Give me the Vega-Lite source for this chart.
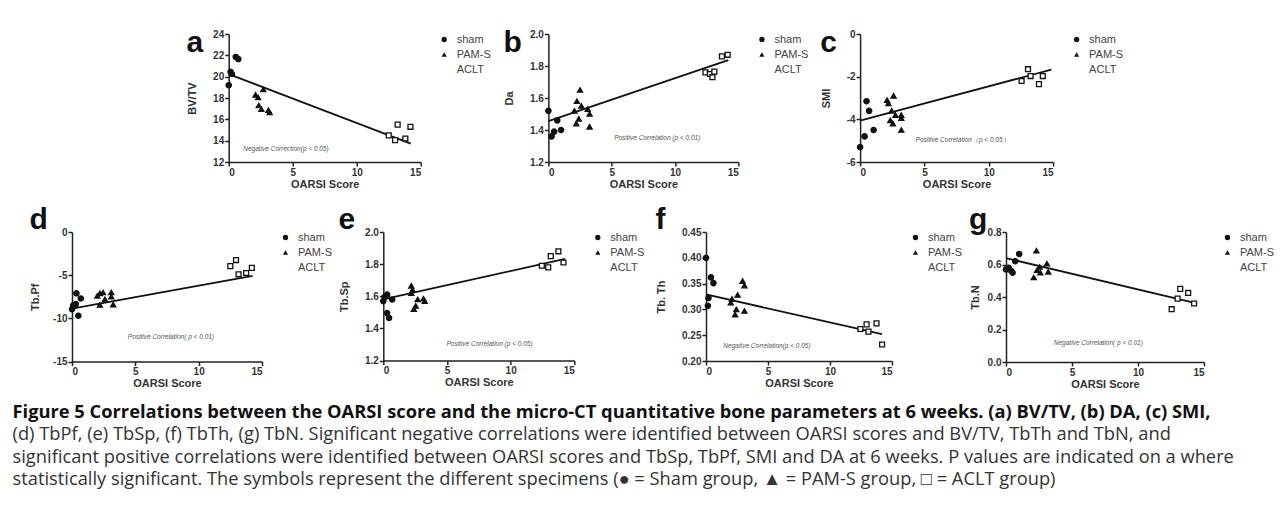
{
  "$schema": "https://vega.github.io/schema/vega-lite/v6.json",
  "background": "white",
  "padding": {"left": 12, "top": 27, "right": 5, "bottom": 5},
  "datasets": {
    "pts": [
      {"p": "a", "g": "sham", "x": 0, "v": 19.2}, {"p": "a", "g": "sham", "x": 0.15, "v": 20.45}, {"p": "a", "g": "sham", "x": 0.25, "v": 20.25}, {"p": "a", "g": "sham", "x": 0.55, "v": 21.85}, {"p": "a", "g": "sham", "x": 0.75, "v": 21.65},
      {"p": "a", "g": "PAM-S", "x": 2.1, "v": 18.3}, {"p": "a", "g": "PAM-S", "x": 2.3, "v": 18.05}, {"p": "a", "g": "PAM-S", "x": 2.7, "v": 18.8}, {"p": "a", "g": "PAM-S", "x": 2.35, "v": 17.3}, {"p": "a", "g": "PAM-S", "x": 2.55, "v": 16.95}, {"p": "a", "g": "PAM-S", "x": 3.1, "v": 16.85}, {"p": "a", "g": "PAM-S", "x": 3.2, "v": 16.65},
      {"p": "a", "g": "ACLT", "x": 12.5, "v": 14.5}, {"p": "a", "g": "ACLT", "x": 13.0, "v": 14.05}, {"p": "a", "g": "ACLT", "x": 13.2, "v": 15.5}, {"p": "a", "g": "ACLT", "x": 13.8, "v": 14.2}, {"p": "a", "g": "ACLT", "x": 14.2, "v": 15.3},

      {"p": "b", "g": "sham", "x": 0, "v": 1.52}, {"p": "b", "g": "sham", "x": 0.25, "v": 1.36}, {"p": "b", "g": "sham", "x": 0.45, "v": 1.39}, {"p": "b", "g": "sham", "x": 0.7, "v": 1.46}, {"p": "b", "g": "sham", "x": 1.0, "v": 1.40},
      {"p": "b", "g": "PAM-S", "x": 2.5, "v": 1.65}, {"p": "b", "g": "PAM-S", "x": 2.25, "v": 1.58}, {"p": "b", "g": "PAM-S", "x": 2.05, "v": 1.52}, {"p": "b", "g": "PAM-S", "x": 2.6, "v": 1.55}, {"p": "b", "g": "PAM-S", "x": 2.4, "v": 1.47}, {"p": "b", "g": "PAM-S", "x": 2.2, "v": 1.44}, {"p": "b", "g": "PAM-S", "x": 3.1, "v": 1.53}, {"p": "b", "g": "PAM-S", "x": 3.25, "v": 1.50}, {"p": "b", "g": "PAM-S", "x": 3.25, "v": 1.42},
      {"p": "b", "g": "ACLT", "x": 12.4, "v": 1.76}, {"p": "b", "g": "ACLT", "x": 12.75, "v": 1.75}, {"p": "b", "g": "ACLT", "x": 13.1, "v": 1.765}, {"p": "b", "g": "ACLT", "x": 12.95, "v": 1.73}, {"p": "b", "g": "ACLT", "x": 13.7, "v": 1.86}, {"p": "b", "g": "ACLT", "x": 14.15, "v": 1.87},

      {"p": "c", "g": "sham", "x": 0, "v": -5.3}, {"p": "c", "g": "sham", "x": 0.35, "v": -4.8}, {"p": "c", "g": "sham", "x": 1.05, "v": -4.5}, {"p": "c", "g": "sham", "x": 0.7, "v": -3.6}, {"p": "c", "g": "sham", "x": 0.5, "v": -3.15},
      {"p": "c", "g": "PAM-S", "x": 2.1, "v": -3.1}, {"p": "c", "g": "PAM-S", "x": 2.2, "v": -3.25}, {"p": "c", "g": "PAM-S", "x": 2.6, "v": -2.9}, {"p": "c", "g": "PAM-S", "x": 2.45, "v": -3.6}, {"p": "c", "g": "PAM-S", "x": 2.75, "v": -3.8}, {"p": "c", "g": "PAM-S", "x": 2.35, "v": -4.05}, {"p": "c", "g": "PAM-S", "x": 2.55, "v": -4.2}, {"p": "c", "g": "PAM-S", "x": 3.2, "v": -3.8}, {"p": "c", "g": "PAM-S", "x": 3.2, "v": -3.95}, {"p": "c", "g": "PAM-S", "x": 3.2, "v": -4.5},
      {"p": "c", "g": "ACLT", "x": 12.55, "v": -2.2}, {"p": "c", "g": "ACLT", "x": 13.05, "v": -1.65}, {"p": "c", "g": "ACLT", "x": 13.25, "v": -1.97}, {"p": "c", "g": "ACLT", "x": 13.9, "v": -2.35}, {"p": "c", "g": "ACLT", "x": 14.2, "v": -1.97},

      {"p": "d", "g": "sham", "x": 0, "v": -8.95}, {"p": "d", "g": "sham", "x": 0.1, "v": -8.5}, {"p": "d", "g": "sham", "x": 0.3, "v": -8.35}, {"p": "d", "g": "sham", "x": 0.35, "v": -7.1}, {"p": "d", "g": "sham", "x": 0.7, "v": -7.7}, {"p": "d", "g": "sham", "x": 0.5, "v": -9.7},
      {"p": "d", "g": "PAM-S", "x": 2.0, "v": -7.4}, {"p": "d", "g": "PAM-S", "x": 2.2, "v": -7.1}, {"p": "d", "g": "PAM-S", "x": 2.45, "v": -7.0}, {"p": "d", "g": "PAM-S", "x": 2.2, "v": -8.45}, {"p": "d", "g": "PAM-S", "x": 2.6, "v": -7.8}, {"p": "d", "g": "PAM-S", "x": 3.1, "v": -7.0}, {"p": "d", "g": "PAM-S", "x": 3.1, "v": -7.5}, {"p": "d", "g": "PAM-S", "x": 3.25, "v": -8.4},
      {"p": "d", "g": "ACLT", "x": 12.5, "v": -3.95}, {"p": "d", "g": "ACLT", "x": 12.95, "v": -3.25}, {"p": "d", "g": "ACLT", "x": 13.15, "v": -4.9}, {"p": "d", "g": "ACLT", "x": 13.75, "v": -4.75}, {"p": "d", "g": "ACLT", "x": 14.2, "v": -4.15},

      {"p": "e", "g": "sham", "x": 0, "v": 1.57}, {"p": "e", "g": "sham", "x": 0.1, "v": 1.595}, {"p": "e", "g": "sham", "x": 0.3, "v": 1.61}, {"p": "e", "g": "sham", "x": 0.7, "v": 1.58}, {"p": "e", "g": "sham", "x": 0.3, "v": 1.495}, {"p": "e", "g": "sham", "x": 0.45, "v": 1.465},
      {"p": "e", "g": "PAM-S", "x": 2.2, "v": 1.665}, {"p": "e", "g": "PAM-S", "x": 2.3, "v": 1.64}, {"p": "e", "g": "PAM-S", "x": 2.2, "v": 1.62}, {"p": "e", "g": "PAM-S", "x": 2.7, "v": 1.58}, {"p": "e", "g": "PAM-S", "x": 3.15, "v": 1.585}, {"p": "e", "g": "PAM-S", "x": 3.25, "v": 1.57}, {"p": "e", "g": "PAM-S", "x": 2.55, "v": 1.54}, {"p": "e", "g": "PAM-S", "x": 2.4, "v": 1.52},
      {"p": "e", "g": "ACLT", "x": 12.45, "v": 1.79}, {"p": "e", "g": "ACLT", "x": 12.95, "v": 1.78}, {"p": "e", "g": "ACLT", "x": 13.15, "v": 1.85}, {"p": "e", "g": "ACLT", "x": 13.75, "v": 1.88}, {"p": "e", "g": "ACLT", "x": 14.15, "v": 1.81},

      {"p": "f", "g": "sham", "x": 0, "v": 0.40}, {"p": "f", "g": "sham", "x": 0.15, "v": 0.307}, {"p": "f", "g": "sham", "x": 0.2, "v": 0.322}, {"p": "f", "g": "sham", "x": 0.4, "v": 0.362}, {"p": "f", "g": "sham", "x": 0.6, "v": 0.351},
      {"p": "f", "g": "PAM-S", "x": 2.1, "v": 0.32}, {"p": "f", "g": "PAM-S", "x": 2.0, "v": 0.313}, {"p": "f", "g": "PAM-S", "x": 2.55, "v": 0.328}, {"p": "f", "g": "PAM-S", "x": 2.95, "v": 0.355}, {"p": "f", "g": "PAM-S", "x": 3.1, "v": 0.346}, {"p": "f", "g": "PAM-S", "x": 3.1, "v": 0.297}, {"p": "f", "g": "PAM-S", "x": 2.45, "v": 0.30}, {"p": "f", "g": "PAM-S", "x": 2.35, "v": 0.29},
      {"p": "f", "g": "ACLT", "x": 12.45, "v": 0.262}, {"p": "f", "g": "ACLT", "x": 12.95, "v": 0.271}, {"p": "f", "g": "ACLT", "x": 13.1, "v": 0.257}, {"p": "f", "g": "ACLT", "x": 13.75, "v": 0.273}, {"p": "f", "g": "ACLT", "x": 14.2, "v": 0.232},

      {"p": "g", "g": "sham", "x": 0, "v": 0.57}, {"p": "g", "g": "sham", "x": 0.2, "v": 0.58}, {"p": "g", "g": "sham", "x": 0.4, "v": 0.56}, {"p": "g", "g": "sham", "x": 0.5, "v": 0.55}, {"p": "g", "g": "sham", "x": 0.7, "v": 0.62}, {"p": "g", "g": "sham", "x": 1.0, "v": 0.665},
      {"p": "g", "g": "PAM-S", "x": 2.3, "v": 0.685}, {"p": "g", "g": "PAM-S", "x": 2.1, "v": 0.52}, {"p": "g", "g": "PAM-S", "x": 2.35, "v": 0.565}, {"p": "g", "g": "PAM-S", "x": 2.6, "v": 0.55}, {"p": "g", "g": "PAM-S", "x": 2.55, "v": 0.585}, {"p": "g", "g": "PAM-S", "x": 3.1, "v": 0.605}, {"p": "g", "g": "PAM-S", "x": 3.2, "v": 0.555},
      {"p": "g", "g": "ACLT", "x": 12.55, "v": 0.325}, {"p": "g", "g": "ACLT", "x": 13.0, "v": 0.39}, {"p": "g", "g": "ACLT", "x": 13.2, "v": 0.45}, {"p": "g", "g": "ACLT", "x": 13.8, "v": 0.425}, {"p": "g", "g": "ACLT", "x": 14.25, "v": 0.36}
    ],
    "fits": [
      {"p": "a", "x": 0, "v": 20.24}, {"p": "a", "x": 14.22, "v": 13.72},
      {"p": "b", "x": 0, "v": 1.456}, {"p": "b", "x": 14.2, "v": 1.837},
      {"p": "c", "x": 0, "v": -4.06}, {"p": "c", "x": 14.87, "v": -1.67},
      {"p": "d", "x": 0, "v": -8.88}, {"p": "d", "x": 14.26, "v": -5.09},
      {"p": "e", "x": 0.24, "v": 1.585}, {"p": "e", "x": 14.27, "v": 1.832},
      {"p": "f", "x": 0, "v": 0.329}, {"p": "f", "x": 14.19, "v": 0.252},
      {"p": "g", "x": 0, "v": 0.639}, {"p": "g", "x": 14.37, "v": 0.362}
    ],
    "notes": [
      {"p": "a", "x": 1.14, "v": 13.19, "label": "Negative Correction(p < 0.05)"},
      {"p": "b", "x": 5.19, "v": 1.348, "label": "Positive Correlation (p < 0.01)"},
      {"p": "c", "x": 4.31, "v": -4.96, "label": "Positive Correlation（p < 0.05）"},
      {"p": "d", "x": 4.41, "v": -12.12, "label": "Positive Correlation( p < 0.01)"},
      {"p": "e", "x": 4.96, "v": 1.305, "label": "Positive Correlation (p < 0.05)"},
      {"p": "f", "x": 1.4, "v": 0.2296, "label": "Negative Correlation(p < 0.05)"},
      {"p": "g", "x": 3.62, "v": 0.114, "label": "Negative Correlation( p < 0.01)"}
    ]
  },
  "title": {
    "text": "Figure 5 Correlations between the OARSI score and the micro-CT quantitative bone parameters at 6 weeks. (a) BV/TV, (b) DA, (c) SMI,",
    "subtitle": [
      "(d) TbPf, (e) TbSp, (f) TbTh, (g) TbN. Significant negative correlations were identified between OARSI scores and BV/TV, TbTh and TbN, and",
      "significant positive correlations were identified between OARSI scores and TbSp, TbPf, SMI and DA at 6 weeks. P values are indicated on a where",
      "statistically significant. The symbols represent the different specimens (● = Sham group, ▲ = PAM-S group, □ = ACLT group)"
    ],
    "orient": "bottom", "anchor": "start", "frame": "bounds",
    "font": "Open Sans", "fontSize": 18.3, "fontWeight": "bold", "color": "#111", "baseline": "top",
    "subtitleFont": "Open Sans", "subtitleFontSize": 18.3, "subtitleFontWeight": "normal", "subtitleColor": "#333",
    "subtitleLineHeight": 22.4, "subtitlePadding": 4, "offset": 15, "dx": -17, "dy": 0
  },
  "vconcat": [
    {
      "hconcat": [
        {"width": 29, "height": 128, "mark": "point", "data": {"values": []}},
        {
          "width": 192, "height": 128,
          "title": {"text": "a", "dy": 32.5},
          "encoding": {
            "x": {"field": "x", "type": "quantitative", "scale": {"domain": [0, 15], "nice": false}, "axis": {"values": [0, 5, 10, 15], "title": "OARSI Score"}},
            "y": {"field": "v", "type": "quantitative", "scale": {"domain": [12, 24], "nice": false, "zero": false}, "axis": {"values": [12, 14, 16, 18, 20, 22, 24], "title": "BV/TV"}}
          },
          "layer": [
            {"data": {"name": "fits"}, "transform": [{"filter": "datum.p == 'a'"}], "mark": {"type": "line", "color": "#111", "strokeWidth": 1.8}},
            {"data": {"name": "pts"}, "transform": [{"filter": "datum.p == 'a'"}], "mark": {"type": "point", "stroke": "#111", "strokeWidth": 1.3, "opacity": 1},
             "encoding": {"shape": {"field": "g", "type": "nominal", "scale": {"domain": ["sham", "PAM-S", "ACLT"], "range": ["circle", "triangle-up", "square"]}, "legend": {"title": null}},
                          "fill": {"field": "g", "type": "nominal", "scale": {"domain": ["sham", "PAM-S", "ACLT"], "range": ["#111", "#111", "white"]}, "legend": {"title": null}},
                          "size": {"field": "g", "type": "nominal", "scale": {"domain": ["sham", "PAM-S", "ACLT"], "range": [28, 24, 46]}, "legend": {"title": null}}}},
            {"data": {"name": "notes"}, "transform": [{"filter": "datum.p == 'a'"}], "mark": {"type": "text", "align": "left", "baseline": "middle", "fontSize": 6.5, "fontStyle": "italic", "color": "#555"},
             "encoding": {"text": {"field": "label"}}}
          ]
        },
        {
          "hconcat": [
            {
              "width": 190, "height": 128,
              "title": {"text": "b", "dy": 32.5},
              "encoding": {
                "x": {"field": "x", "type": "quantitative", "scale": {"domain": [0, 15], "nice": false}, "axis": {"values": [0, 5, 10, 15], "title": "OARSI Score"}},
                "y": {"field": "v", "type": "quantitative", "scale": {"domain": [1.2, 2.0], "nice": false, "zero": false}, "axis": {"values": [1.2, 1.4, 1.6, 1.8, 2.0], "format": ".1f", "title": "Da"}}
              },
              "layer": [
                {"data": {"name": "fits"}, "transform": [{"filter": "datum.p == 'b'"}], "mark": {"type": "line", "color": "#111", "strokeWidth": 1.8}},
                {"data": {"name": "pts"}, "transform": [{"filter": "datum.p == 'b'"}], "mark": {"type": "point", "stroke": "#111", "strokeWidth": 1.3, "opacity": 1},
                 "encoding": {"shape": {"field": "g", "type": "nominal", "scale": {"domain": ["sham", "PAM-S", "ACLT"], "range": ["circle", "triangle-up", "square"]}, "legend": {"title": null}},
                              "fill": {"field": "g", "type": "nominal", "scale": {"domain": ["sham", "PAM-S", "ACLT"], "range": ["#111", "#111", "white"]}, "legend": {"title": null}},
                              "size": {"field": "g", "type": "nominal", "scale": {"domain": ["sham", "PAM-S", "ACLT"], "range": [28, 24, 46]}, "legend": {"title": null}}}},
                {"data": {"name": "notes"}, "transform": [{"filter": "datum.p == 'b'"}], "mark": {"type": "text", "align": "left", "baseline": "middle", "fontSize": 6.5, "fontStyle": "italic", "color": "#555"},
                 "encoding": {"text": {"field": "label"}}}
              ]
            },
            {
              "width": 193, "height": 128,
              "title": {"text": "c", "dy": 32.5},
              "encoding": {
                "x": {"field": "x", "type": "quantitative", "scale": {"domain": [0, 15], "nice": false}, "axis": {"values": [0, 5, 10, 15], "title": "OARSI Score"}},
                "y": {"field": "v", "type": "quantitative", "scale": {"domain": [-6, 0], "nice": false, "zero": false}, "axis": {"values": [-6, -4, -2, 0], "title": "SMI", "labelExpr": "replace(datum.label, '\u2212', '-')"}}
              },
              "layer": [
                {"data": {"name": "fits"}, "transform": [{"filter": "datum.p == 'c'"}], "mark": {"type": "line", "color": "#111", "strokeWidth": 1.8}},
                {"data": {"name": "pts"}, "transform": [{"filter": "datum.p == 'c'"}], "mark": {"type": "point", "stroke": "#111", "strokeWidth": 1.3, "opacity": 1},
                 "encoding": {"shape": {"field": "g", "type": "nominal", "scale": {"domain": ["sham", "PAM-S", "ACLT"], "range": ["circle", "triangle-up", "square"]}, "legend": {"title": null}},
                              "fill": {"field": "g", "type": "nominal", "scale": {"domain": ["sham", "PAM-S", "ACLT"], "range": ["#111", "#111", "white"]}, "legend": {"title": null}},
                              "size": {"field": "g", "type": "nominal", "scale": {"domain": ["sham", "PAM-S", "ACLT"], "range": [28, 24, 46]}, "legend": {"title": null}}}},
                {"data": {"name": "notes"}, "transform": [{"filter": "datum.p == 'c'"}], "mark": {"type": "text", "align": "left", "baseline": "middle", "fontSize": 6.5, "fontStyle": "italic", "color": "#555"},
                 "encoding": {"text": {"field": "label"}}}
              ]
            }
          ],
          "spacing": 121.7, "bounds": "flush",
          "resolve": {"scale": {"shape": "independent", "fill": "independent", "size": "independent"}}
        }
      ],
      "spacing": 127.7, "bounds": "flush",
      "resolve": {"scale": {"shape": "independent", "fill": "independent", "size": "independent"}}
    },
    {
      "hconcat": [
        {
          "width": 190, "height": 129.5,
          "title": {"text": "d", "dy": 11.5},
          "encoding": {
            "x": {"field": "x", "type": "quantitative", "scale": {"domain": [0, 15], "nice": false}, "axis": {"values": [0, 5, 10, 15], "title": "OARSI Score"}},
            "y": {"field": "v", "type": "quantitative", "scale": {"domain": [-15, 0], "nice": false, "zero": false}, "axis": {"values": [-15, -10, -5, 0], "title": "Tb.Pf", "titlePadding": 12, "labelExpr": "replace(datum.label, '\u2212', '-')"}}
          },
          "layer": [
            {"data": {"name": "fits"}, "transform": [{"filter": "datum.p == 'd'"}], "mark": {"type": "line", "color": "#111", "strokeWidth": 1.8}},
            {"data": {"name": "pts"}, "transform": [{"filter": "datum.p == 'd'"}], "mark": {"type": "point", "stroke": "#111", "strokeWidth": 1.3, "opacity": 1},
             "encoding": {"shape": {"field": "g", "type": "nominal", "scale": {"domain": ["sham", "PAM-S", "ACLT"], "range": ["circle", "triangle-up", "square"]}, "legend": {"title": null}},
                          "fill": {"field": "g", "type": "nominal", "scale": {"domain": ["sham", "PAM-S", "ACLT"], "range": ["#111", "#111", "white"]}, "legend": {"title": null}},
                          "size": {"field": "g", "type": "nominal", "scale": {"domain": ["sham", "PAM-S", "ACLT"], "range": [28, 24, 46]}, "legend": {"title": null}}}},
            {"data": {"name": "notes"}, "transform": [{"filter": "datum.p == 'd'"}], "mark": {"type": "text", "align": "left", "baseline": "middle", "fontSize": 6.5, "fontStyle": "italic", "color": "#555"},
             "encoding": {"text": {"field": "label"}}}
          ]
        },
        {
          "hconcat": [
            {
              "width": 191, "height": 128.5,
              "title": {"text": "e", "dy": 11.5},
              "encoding": {
                "x": {"field": "x", "type": "quantitative", "scale": {"domain": [0, 15], "nice": false}, "axis": {"values": [0, 5, 10, 15], "title": "OARSI Score"}},
                "y": {"field": "v", "type": "quantitative", "scale": {"domain": [1.2, 2.0], "nice": false, "zero": false}, "axis": {"values": [1.2, 1.4, 1.6, 1.8, 2.0], "format": ".1f", "title": "Tb.Sp"}}
              },
              "layer": [
                {"data": {"name": "fits"}, "transform": [{"filter": "datum.p == 'e'"}], "mark": {"type": "line", "color": "#111", "strokeWidth": 1.8}},
                {"data": {"name": "pts"}, "transform": [{"filter": "datum.p == 'e'"}], "mark": {"type": "point", "stroke": "#111", "strokeWidth": 1.3, "opacity": 1},
                 "encoding": {"shape": {"field": "g", "type": "nominal", "scale": {"domain": ["sham", "PAM-S", "ACLT"], "range": ["circle", "triangle-up", "square"]}, "legend": {"title": null}},
                              "fill": {"field": "g", "type": "nominal", "scale": {"domain": ["sham", "PAM-S", "ACLT"], "range": ["#111", "#111", "white"]}, "legend": {"title": null}},
                              "size": {"field": "g", "type": "nominal", "scale": {"domain": ["sham", "PAM-S", "ACLT"], "range": [28, 24, 46]}, "legend": {"title": null}}}},
                {"data": {"name": "notes"}, "transform": [{"filter": "datum.p == 'e'"}], "mark": {"type": "text", "align": "left", "baseline": "middle", "fontSize": 6.5, "fontStyle": "italic", "color": "#555"},
                 "encoding": {"text": {"field": "label"}}}
              ]
            },
            {
              "hconcat": [
                {
                  "width": 186, "height": 129,
                  "title": {"text": "f", "dy": 11.5},
                  "encoding": {
                    "x": {"field": "x", "type": "quantitative", "scale": {"domain": [0, 15], "nice": false}, "axis": {"values": [0, 5, 10, 15], "title": "OARSI Score"}},
                    "y": {"field": "v", "type": "quantitative", "scale": {"domain": [0.2, 0.45], "nice": false, "zero": false}, "axis": {"values": [0.2, 0.25, 0.3, 0.35, 0.4, 0.45], "format": ".2f", "title": "Tb. Th"}}
                  },
                  "layer": [
                    {"data": {"name": "fits"}, "transform": [{"filter": "datum.p == 'f'"}], "mark": {"type": "line", "color": "#111", "strokeWidth": 1.8}},
                    {"data": {"name": "pts"}, "transform": [{"filter": "datum.p == 'f'"}], "mark": {"type": "point", "stroke": "#111", "strokeWidth": 1.3, "opacity": 1},
                     "encoding": {"shape": {"field": "g", "type": "nominal", "scale": {"domain": ["sham", "PAM-S", "ACLT"], "range": ["circle", "triangle-up", "square"]}, "legend": {"title": null}},
                                  "fill": {"field": "g", "type": "nominal", "scale": {"domain": ["sham", "PAM-S", "ACLT"], "range": ["#111", "#111", "white"]}, "legend": {"title": null}},
                                  "size": {"field": "g", "type": "nominal", "scale": {"domain": ["sham", "PAM-S", "ACLT"], "range": [28, 24, 46]}, "legend": {"title": null}}}},
                    {"data": {"name": "notes"}, "transform": [{"filter": "datum.p == 'f'"}], "mark": {"type": "text", "align": "left", "baseline": "middle", "fontSize": 6.5, "fontStyle": "italic", "color": "#555"},
                     "encoding": {"text": {"field": "label"}}}
                  ]
                },
                {
                  "width": 198, "height": 130,
                  "title": {"text": "g", "dy": 11.5},
                  "encoding": {
                    "x": {"field": "x", "type": "quantitative", "scale": {"domain": [0, 15], "nice": false}, "axis": {"values": [0, 5, 10, 15], "title": "OARSI Score"}},
                    "y": {"field": "v", "type": "quantitative", "scale": {"domain": [0, 0.8], "nice": false}, "axis": {"values": [0, 0.2, 0.4, 0.6, 0.8], "format": ".1f", "title": "Tb.N", "titlePadding": 7}}
                  },
                  "layer": [
                    {"data": {"name": "fits"}, "transform": [{"filter": "datum.p == 'g'"}], "mark": {"type": "line", "color": "#111", "strokeWidth": 1.8}},
                    {"data": {"name": "pts"}, "transform": [{"filter": "datum.p == 'g'"}], "mark": {"type": "point", "stroke": "#111", "strokeWidth": 1.3, "opacity": 1},
                     "encoding": {"shape": {"field": "g", "type": "nominal", "scale": {"domain": ["sham", "PAM-S", "ACLT"], "range": ["circle", "triangle-up", "square"]}, "legend": {"title": null}},
                                  "fill": {"field": "g", "type": "nominal", "scale": {"domain": ["sham", "PAM-S", "ACLT"], "range": ["#111", "#111", "white"]}, "legend": {"title": null}},
                                  "size": {"field": "g", "type": "nominal", "scale": {"domain": ["sham", "PAM-S", "ACLT"], "range": [28, 24, 46]}, "legend": {"title": null}}}},
                    {"data": {"name": "notes"}, "transform": [{"filter": "datum.p == 'g'"}], "mark": {"type": "text", "align": "left", "baseline": "middle", "fontSize": 6.5, "fontStyle": "italic", "color": "#555"},
                     "encoding": {"text": {"field": "label"}}}
                  ]
                }
              ],
              "spacing": 114, "bounds": "flush",
              "resolve": {"scale": {"shape": "independent", "fill": "independent", "size": "independent"}}
            }
          ],
          "spacing": 131.7, "bounds": "flush",
          "resolve": {"scale": {"shape": "independent", "fill": "independent", "size": "independent"}}
        }
      ],
      "spacing": 121.3, "bounds": "flush",
      "resolve": {"scale": {"shape": "independent", "fill": "independent", "size": "independent"}}
    }
  ],
  "spacing": 198, "bounds": "flush",
  "resolve": {"scale": {"shape": "independent", "fill": "independent", "size": "independent"}},
  "config": {
    "view": {"stroke": null},
    "font": "Liberation Sans",
    "axis": {"domainColor": "#222", "domainWidth": 1.5, "tickColor": "#222", "tickWidth": 1.5, "tickSize": 4, "labelFont": "Liberation Sans", "labelFontSize": 10, "labelFontWeight": "bold", "labelColor": "#333", "labelPadding": 1, "labelOverlap": false, "titleFont": "Liberation Sans", "titleFontSize": 11, "titleFontWeight": "bold", "titleColor": "#333", "grid": false},
    "axisY": {"titlePadding": 15},
    "axisX": {"titlePadding": 1},
    "legend": {"orient": "right", "offset": 18, "padding": 0, "labelFont": "Liberation Sans", "labelFontSize": 11, "labelColor": "#444", "labelOffset": 7, "rowPadding": 3, "symbolStrokeColor": "#111", "symbolStrokeWidth": 1.3},
    "title": {"anchor": "start", "frame": "bounds", "font": "Liberation Sans", "fontSize": 30, "fontWeight": "bold", "color": "#111", "baseline": "alphabetic", "offset": 0}
  }
}
